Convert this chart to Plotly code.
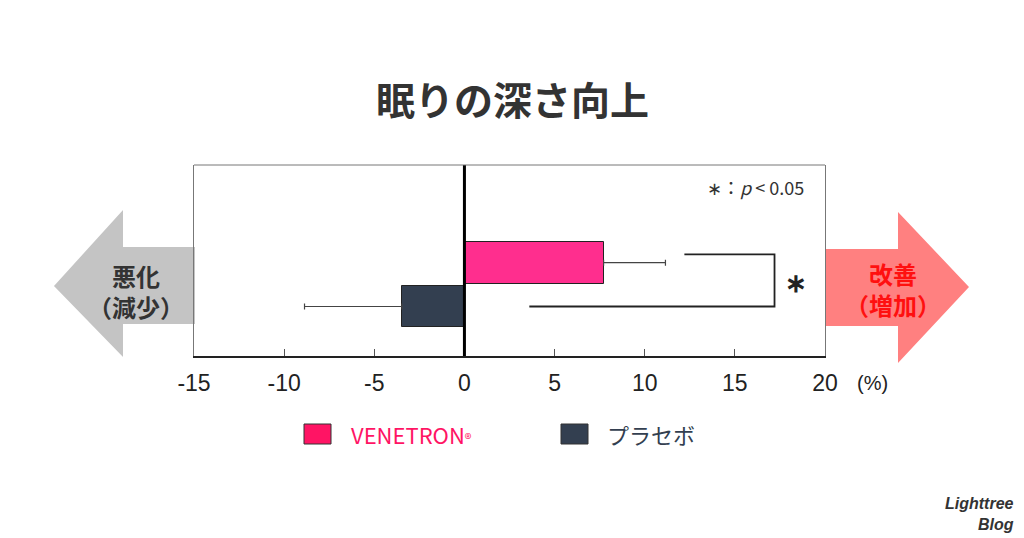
import plotly.graph_objects as go

# data
groups = ["VENETRON®", "プラセボ"]
values = [7.72, -3.47]
err_plus = [3.43, 0.0]
err_minus = [0.0, 5.4]
bar_colors = ["#ff2e8e", "#333f50"]
y_pos = [1, 0]

# significance bracket (x values)
bracket_x = [12.2, 17.2, 17.2, 3.6]
bracket_y = [1.19, 1.19, 0.0, 0.0]

tick_vals = [-15, -10, -5, 0, 5, 10, 15, 20]
tick_text = ["-15", "-10", "-5", "0", "5", "10", "15", "20"]

W, H = 1024, 538
L, R, T, B = 194, 825, 165, 356


def px(x):
    return (x - L) / (R - L)


def py(y):
    return (B - y) / (B - T)


def poly(pts):
    return "M " + " L ".join(f"{px(a):.4f},{py(b):.4f}" for a, b in pts) + " Z"


fig = go.Figure()

for g, v, ep, em, c, y in zip(groups, values, err_plus, err_minus, bar_colors, y_pos):
    fig.add_trace(go.Bar(
        x=[v], y=[y], orientation="h", width=0.95, name=g,
        marker=dict(color=c, line=dict(color="#222", width=1)),
        error_x=dict(type="data", symmetric=False, array=[ep], arrayminus=[em],
                     color="#444", thickness=1.2, width=3),
        showlegend=False,
    ))

fig.add_trace(go.Scatter(x=bracket_x, y=bracket_y, mode="lines",
                         line=dict(color="#222", width=1.8), showlegend=False,
                         hoverinfo="skip"))

shapes = []
# left gray arrow
shapes.append(dict(type="path", xref="paper", yref="paper", layer="below",
                   path=poly([(195, 247), (123, 247), (123, 210), (54, 286),
                              (123, 357), (123, 324), (195, 324)]),
                   fillcolor="#c4c4c4", line=dict(width=0)))
# right pink arrow
shapes.append(dict(type="path", xref="paper", yref="paper", layer="below",
                   path=poly([(826, 249), (898, 249), (898, 212), (969, 287),
                              (898, 363), (898, 326), (826, 326)]),
                   fillcolor="#ff8080", line=dict(width=0)))
# zero line
shapes.append(dict(type="line", xref="x", yref="paper", x0=0, x1=0, y0=0, y1=1,
                   line=dict(color="black", width=3)))
# top border
shapes.append(dict(type="line", xref="paper", yref="paper", x0=0, x1=1, y0=1, y1=1,
                   line=dict(color="#777", width=1)))
# legend boxes
shapes.append(dict(type="rect", xref="paper", yref="paper",
                   x0=px(304), x1=px(331), y0=py(444), y1=py(424),
                   fillcolor="#ff1464", line=dict(color="#333", width=1)))
shapes.append(dict(type="rect", xref="paper", yref="paper",
                   x0=px(561), x1=px(588), y0=py(444), y1=py(424),
                   fillcolor="#333f50", line=dict(color="#333", width=1)))

ann = []
ann.append(dict(text="<b>眠りの深さ向上</b>", x=px(512), xref="paper", y=py(98), yref="paper",
                xanchor="center", yanchor="middle", showarrow=False,
                font=dict(size=39, color="#333")))
ann.append(dict(text="<b>悪化<br>（減少）</b>", x=px(136), y=py(291), xref="paper", yref="paper",
                xanchor="center", yanchor="middle",
                showarrow=False, font=dict(size=24, color="#333"), align="center"))
ann.append(dict(text="<b>改善<br>（増加）</b>", x=px(893), y=py(289), xref="paper", yref="paper",
                xanchor="center", yanchor="middle",
                showarrow=False, font=dict(size=24, color="#ff1010"), align="center"))
ann.append(dict(text="∗：<i>p</i> < 0.05", x=px(806), y=py(187), xref="paper", yref="paper",
                xanchor="right", yanchor="middle", showarrow=False,
                font=dict(size=18, color="#333")))
ann.append(dict(text="<b>∗</b>", x=18.4, y=0.6, xref="x", yref="y",
                xanchor="center", yanchor="middle",
                showarrow=False, font=dict(size=26, color="#222")))
ann.append(dict(text="(%)", x=px(872), y=py(383), xref="paper", yref="paper",
                xanchor="center", yanchor="middle",
                showarrow=False, font=dict(size=20, color="#222", family="Liberation Sans")))
ann.append(dict(text="VENETRON<span style=\"font-size:14px\">®</span>", x=px(349), y=py(434),
                xref="paper", yref="paper", xanchor="left", yanchor="middle",
                showarrow=False, font=dict(size=22, color="#ff1464")))
ann.append(dict(text="プラセボ", x=px(605), y=py(434), xref="paper", yref="paper",
                xanchor="left", yanchor="middle", showarrow=False,
                font=dict(size=22, color="#333f50")))
ann.append(dict(text="<b><i>Lighttree<br>Blog</i></b>", x=px(1016), y=py(514), xref="paper",
                yref="paper", xanchor="right", yanchor="middle", showarrow=False, align="right",
                font=dict(size=16, color="#333", family="Liberation Sans")))

fig.update_layout(
    width=W, height=H,
    margin=dict(l=L, r=W - R, t=T, b=H - B),
    paper_bgcolor="white", plot_bgcolor="white",
    font=dict(family="Noto Sans CJK JP", color="#222"),
    shapes=shapes, annotations=ann,
    bargap=0,
)
fig.update_xaxes(range=[-15, 20], tickvals=tick_vals, ticktext=tick_text,
                 ticks="inside", ticklen=7, ticklabelstandoff=6,
                 tickcolor="#555", showgrid=False, zeroline=False,
                 showline=True, linecolor="#222", linewidth=1.5, mirror=False,
                 tickfont=dict(size=23, color="#222", family="Liberation Sans"),
                 fixedrange=True)
fig.update_yaxes(range=[-1.13, 3.23], showticklabels=False, showgrid=False,
                 zeroline=False, showline=True, linecolor="#777", linewidth=1,
                 mirror=True, ticks="", fixedrange=True)

fig.write_html("out.html", config={"displayModeBar": False},
               post_script="document.body.style.margin='0';")
